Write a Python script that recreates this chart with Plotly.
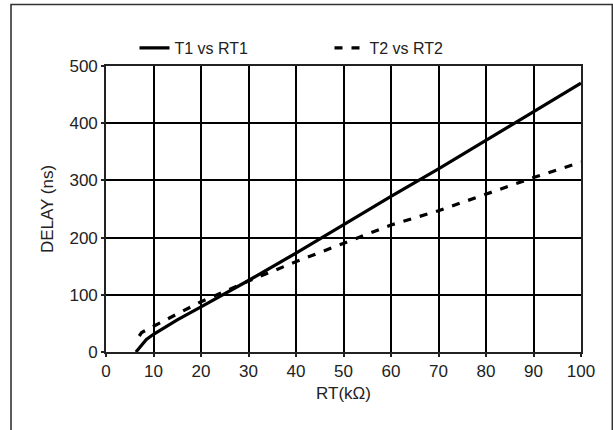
import plotly.graph_objects as go

# Series 1: T1 vs RT1 (solid)
rt1 = [6.3, 7.5, 8.5, 10, 15, 20, 30, 40, 50, 60, 70, 80, 90, 100]
t1 = [0, 12, 22, 31, 56, 79, 125, 173, 223, 272, 320, 370, 420, 470]

# Series 2: T2 vs RT2 (dashed)
rt2 = [7, 7.5, 10, 15, 20, 25, 30, 40, 50, 60, 70, 80, 90, 100]
t2 = [28, 34, 45, 66, 88, 106, 124, 158, 190, 222, 247, 276, 305, 332]

x_ticks = [0, 10, 20, 30, 40, 50, 60, 70, 80, 90, 100]
y_ticks = [0, 100, 200, 300, 400, 500]

FONT = "Liberation Sans, Arial, sans-serif"
TXT = "#222222"

fig = go.Figure()
fig.add_trace(go.Scatter(x=rt1, y=t1, mode="lines", name="T1 vs RT1",
                         line=dict(color="black", width=3.2)))
fig.add_trace(go.Scatter(x=rt2, y=t2, mode="lines", name="T2 vs RT2",
                         line=dict(color="black", width=3.2, dash="8px,9px")))

axis_common = dict(showgrid=True, gridcolor="black", gridwidth=1.6,
                   showline=True, linecolor="#222222", linewidth=1.6, mirror=True,
                   ticks="outside", ticklen=3, tickcolor="#222222", tickwidth=1.5,
                   zeroline=False, tickfont=dict(family=FONT, size=17, color=TXT))

fig.update_xaxes(range=[0, 100], tickvals=x_ticks,
                 title=dict(text="RT(kΩ)", font=dict(family=FONT, size=17, color=TXT), standoff=7),
                 **axis_common)
fig.update_yaxes(range=[0, 500], tickvals=y_ticks,
                 title=dict(text="DELAY (ns)", font=dict(family=FONT, size=17, color=TXT), standoff=11),
                 **axis_common)

# outer border frame
fig.add_shape(type="rect", xref="paper", yref="paper",
              x0=-0.2, x1=1.066, y0=-0.35, y1=1.215,
              line=dict(color="#333333", width=1.6), fillcolor="rgba(0,0,0,0)", layer="below")

fig.update_layout(
    width=613, height=430,
    margin=dict(l=106, r=32, t=66, b=78),
    paper_bgcolor="white", plot_bgcolor="white",
    showlegend=True,
    legend=dict(orientation="h", x=0.06, y=1.063, xanchor="left", yanchor="middle",
                entrywidth=150, entrywidthmode="pixels",
                font=dict(family=FONT, size=16, color=TXT),
                bgcolor="rgba(0,0,0,0)", itemwidth=30),
)

fig.write_html("out.html", config={"displayModeBar": False},
               post_script="document.body.style.margin='0px';")
